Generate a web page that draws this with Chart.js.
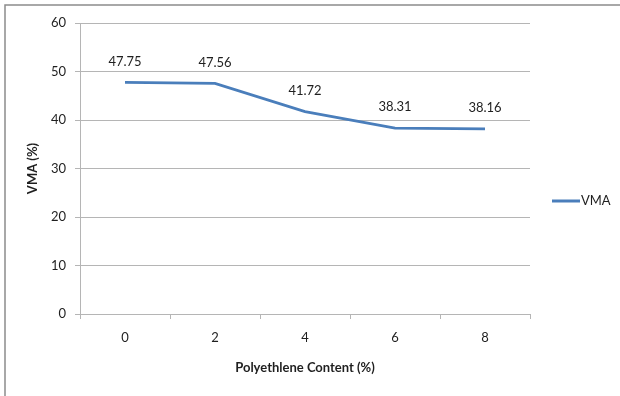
<!DOCTYPE html>
<html>
<head>
<meta charset="utf-8">
<script src="https://cdn.jsdelivr.net/npm/chart.js@4"></script>
<style>
  html, body { margin: 0; padding: 0; background: #ffffff; }
  #wrap { width: 620px; height: 396px; position: relative; }
</style>
</head>
<body>
<div id="wrap"><canvas id="chart" width="620" height="396"></canvas></div>
<script>
// Polyethylene content (%) on the category axis
const categories = ['0', '2', '4', '6', '8'];
// VMA (%) measured at each content level
const vmaValues = [47.75, 47.56, 41.72, 38.31, 38.16];
const seriesName = 'VMA';
const yTicks = [0, 10, 20, 30, 40, 50, 60];

const lineColor = '#4a7ebb';
const gridColor = '#b5b5b5';
const textColor = '#1f1f1f';
const fontFamily = 'Lato, "Open Sans", sans-serif';
const fontSize = 13;

// Value labels above each point
const valueLabels = {
  id: 'valueLabels',
  afterDatasetsDraw(chart) {
    const ctx = chart.ctx;
    const meta = chart.getDatasetMeta(0);
    const data = chart.data.datasets[0].data;
    ctx.save();
    ctx.font = fontSize + 'px ' + fontFamily;
    ctx.fillStyle = textColor;
    ctx.textAlign = 'center';
    ctx.textBaseline = 'middle';
    meta.data.forEach((pt, i) => {
      ctx.fillText(data[i].toFixed(2), pt.x, pt.y - 21);
    });
    ctx.restore();
  }
};

// Legend entry on the right and the frame edges
const sideLegend = {
  id: 'sideLegend',
  afterDraw(chart) {
    const ctx = chart.ctx;
    const ds = chart.data.datasets[0];
    ctx.save();
    ctx.strokeStyle = ds.borderColor;
    ctx.lineWidth = 3;
    ctx.beginPath();
    ctx.moveTo(552, 201);
    ctx.lineTo(580, 201);
    ctx.stroke();
    ctx.font = fontSize + 'px ' + fontFamily;
    ctx.fillStyle = textColor;
    ctx.textAlign = 'left';
    ctx.textBaseline = 'middle';
    ctx.fillText(ds.label, 581, 201);

    ctx.strokeStyle = '#8c8c8c';
    ctx.lineWidth = 1.5;
    ctx.beginPath();
    ctx.moveTo(5, 396);
    ctx.lineTo(5, 5);
    ctx.lineTo(620, 5);
    ctx.stroke();
    ctx.restore();
  }
};

new Chart(document.getElementById('chart'), {
  type: 'line',
  data: {
    labels: categories,
    datasets: [{
      label: seriesName,
      data: vmaValues,
      borderColor: lineColor,
      backgroundColor: lineColor,
      borderWidth: 2.75,
      pointRadius: 0,
      tension: 0,
      fill: false
    }]
  },
  options: {
    responsive: false,
    animation: false,
    layout: { padding: { left: 0, top: 23, right: 90, bottom: 0 } },
    plugins: {
      legend: { display: false },
      tooltip: { enabled: false }
    },
    scales: {
      x: {
        offset: true,
        afterFit(scale) { scale.height = 82; },
        grid: {
          offset: true,
          drawOnChartArea: false,
          drawTicks: true,
          tickLength: 5,
          color: gridColor
        },
        border: { color: gridColor, width: 1 },
        ticks: {
          color: textColor,
          font: { family: fontFamily, size: fontSize },
          padding: 11,
          maxRotation: 0
        },
        title: {
          display: true,
          text: 'Polyethlene Content (%)',
          color: textColor,
          font: { family: fontFamily, size: fontSize, weight: 'bold' },
          padding: { top: 0, bottom: 20 }
        }
      },
      y: {
        min: 0,
        max: 60,
        afterFit(scale) { scale.width = 80; },
        afterBuildTicks(scale) { scale.ticks = yTicks.map(v => ({ value: v })); },
        grid: {
          color: gridColor,
          tickLength: 5,
          drawTicks: true
        },
        border: { color: gridColor, width: 1 },
        ticks: {
          color: textColor,
          font: { family: fontFamily, size: fontSize },
          padding: 9
        },
        title: {
          display: true,
          text: 'VMA (%)',
          color: textColor,
          font: { family: fontFamily, size: fontSize, weight: 'bold' },
          padding: { top: 25, bottom: 0 }
        }
      }
    }
  },
  plugins: [valueLabels, sideLegend]
});
</script>
</body>
</html>
